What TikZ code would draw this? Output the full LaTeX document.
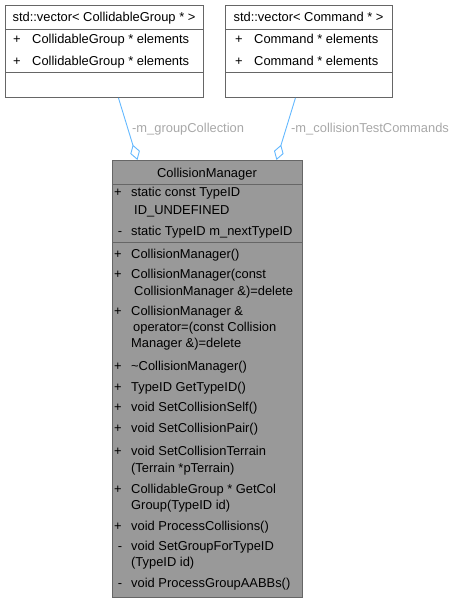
\documentclass[tikz,border=0pt]{standalone}
\usepackage{fontspec}
\setmainfont{Liberation Sans}
\usetikzlibrary{calc,arrows.meta}
\definecolor{boxedge}{HTML}{666666}
\definecolor{boxfill}{HTML}{999999}
\definecolor{edgeblue}{HTML}{63B8FF}
\definecolor{labelgrey}{HTML}{A8A8A8}
\newcommand{\umlfont}{\fontsize{12.9}{15}\selectfont}
\NewDocumentCommand{\memberrow}{m m m m m}{ % x sign, x text, y, sign, text
    \node[signtext] (s#1-#3) at (#1,#3+4.5) {#4};
    \node[membertext] (t#1-#3) at (#2,#3+4.5) {#5};
}
\NewDocumentCommand{\wraprow}{m m m}{ % x text, y, text
    \node[membertext] (w#1-#2) at (#1,#2+4.5) {#3};
}
\tikzset{
    classbox/.style={draw=boxedge, line width=0.9pt, anchor=north west, inner sep=0pt},
    boxrule/.style={draw=boxedge, line width=0.9pt},
    titletext/.style={anchor=base, inner sep=0pt, font=\umlfont},
    membertext/.style={anchor=base west, inner sep=0pt, font=\umlfont},
    signtext/.style={anchor=base, inner sep=0pt, font=\umlfont},
    edgelabel/.style={anchor=base west, inner sep=0pt, text=labelgrey, font=\umlfont},
    aggregation/.style={draw=edgeblue, line width=0.9pt,
        -{Diamond[fill=white, length=16pt, width=10pt]}}
}
\begin{document}
\begin{tikzpicture}[x=1pt, y=-1pt]
    \useasboundingbox (0,0) rectangle (458,603);
    % vector classes
    \node[classbox, fill=white, minimum width=198, minimum height=92] (grp) at (5,5) {};
    \node[classbox, fill=white, minimum width=167, minimum height=92] (cmd) at (225,5) {};
    \draw[boxrule] ($(grp.north west)+(0,24)$) -- ($(grp.north east)+(0,24)$)
        ($(grp.north west)+(0,67)$) -- ($(grp.north east)+(0,67)$);
    \draw[boxrule] ($(cmd.north west)+(0,24)$) -- ($(cmd.north east)+(0,24)$)
        ($(cmd.north west)+(0,67)$) -- ($(cmd.north east)+(0,67)$);
    \node[titletext] (grptitle) at (104,17+4.5) {std::vector< CollidableGroup * >};
    \node[titletext] (cmdtitle) at (308.5,17+4.5) {std::vector< Command * >};
    \memberrow{17}{32}{39}{+}{CollidableGroup * elements}
    \memberrow{17}{32}{61}{+}{CollidableGroup * elements}
    \memberrow{239}{254}{39}{+}{Command * elements}
    \memberrow{239}{254}{61}{+}{Command * elements}
    % CollisionManager
    \node[classbox, fill=boxfill, minimum width=190, minimum height=437] (cm) at (112,160) {};
    \draw[boxrule] ($(cm.north west)+(0,24)$) -- ($(cm.north east)+(0,24)$)
        ($(cm.north west)+(0,82)$) -- ($(cm.north east)+(0,82)$);
    \node[titletext] (cmtitle) at (207,173+4.5) {CollisionManager};
    \memberrow{118}{131}{192}{+}{static const TypeID}
    \wraprow{134}{210}{ID\_UNDEFINED}
    \memberrow{120}{131}{231}{-}{static TypeID m\_nextTypeID}
    \memberrow{118}{131}{254}{+}{CollisionManager()}
    \memberrow{118}{131}{274}{+}{CollisionManager(const}
    \wraprow{134}{291}{CollisionManager \&)=delete}
    \memberrow{118}{131}{311}{+}{CollisionManager \&}
    \wraprow{133}{327}{operator=(const Collision}
    \wraprow{131}{343}{Manager \&)=delete}
    \memberrow{118}{131}{366}{+}{\textasciitilde CollisionManager()}
    \memberrow{118}{131}{387}{+}{TypeID GetTypeID()}
    \memberrow{118}{131}{407}{+}{void SetCollisionSelf()}
    \memberrow{118}{131}{428}{+}{void SetCollisionPair()}
    \memberrow{118}{131}{451}{+}{void SetCollisionTerrain}
    \wraprow{131}{468}{(Terrain *pTerrain)}
    \memberrow{118}{131}{489}{+}{CollidableGroup * GetCol}
    \wraprow{131}{505}{Group(TypeID id)}
    \memberrow{118}{131}{526}{+}{void ProcessCollisions()}
    \memberrow{120}{131}{546}{-}{void SetGroupForTypeID}
    \wraprow{131}{562}{(TypeID id)}
    \memberrow{120}{131}{583}{-}{void ProcessGroupAABBs()}
    % aggregations
    \coordinate (grpout) at ([xshift=14pt]grp.south);
    \coordinate (cmdout) at ([xshift=-13.5pt]cmd.south);
    \coordinate (cmin1) at ([xshift=-70pt]cm.north);
    \coordinate (cmin2) at ([xshift=69pt]cm.north);
    \draw[aggregation] (grpout) -- (cmin1);
    \draw[aggregation] (cmdout) -- (cmin2);
    \node[edgelabel] (grplabel) at (132,128+4.5) {-m\_groupCollection};
    \node[edgelabel] (cmdlabel) at (291,128+4.5) {-m\_collisionTestCommands};
\end{tikzpicture}
\end{document}
